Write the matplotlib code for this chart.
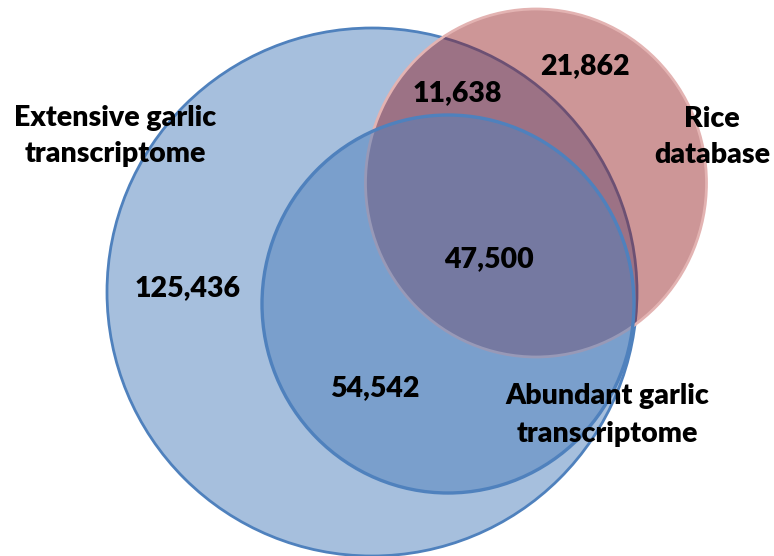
import matplotlib
matplotlib.use("Agg")
import matplotlib.pyplot as plt
from matplotlib.patches import Ellipse

# set names and region counts
set_names = ["Extensive garlic\ntranscriptome", "Rice\ndatabase", "Abundant garlic\ntranscriptome"]
region_names = ["extensive only", "extensive & rice", "rice only", "all three", "extensive & abundant"]
region_counts = [125436, 11638, 21862, 47500, 54542]

# layout (pixel space, y down)
ell_center = [(372, 292), (536, 183), (448, 304)]
ell_size = [(530, 528), (341, 348), (372, 378)]
face = [((79/255, 129/255, 189/255), 0.5),
        ((144/255, 22/255, 26/255), 0.45),
        ((79/255, 129/255, 189/255), 0.5)]
edge = ["#4f81bd", "#e3b3b2", "#4f81bd"]
edge_w = [2.0, 2.0, 2.4]
draw_order = [0, 1, 2]

set_label_pos = [(115, 136), (712, 137), (607, 415)]
set_label_spacing = [1.45, 1.5, 1.55]
count_pos = [(188, 288), (457, 93), (585, 66), (489, 259), (375, 388)]

plt.rcParams['font.family'] = ['Lato', 'DejaVu Sans']

fig = plt.figure(figsize=(7.74, 5.56), dpi=100)
ax = fig.add_axes([0, 0, 1, 1])
ax.set_xlim(0, 774)
ax.set_ylim(556, 0)
ax.set_aspect('equal')
ax.axis('off')

for i in draw_order:
    (cx, cy), (w, h) = ell_center[i], ell_size[i]
    col, a = face[i]
    ax.add_patch(Ellipse((cx, cy), w, h, facecolor=(*col, a), edgecolor=edge[i],
                         linewidth=edge_w[i]))

for name, (x, y), ls in zip(set_names, set_label_pos, set_label_spacing):
    ax.text(x, y, name, ha="center", va="center", fontsize=20.5, fontweight="heavy",
            linespacing=ls, color="black")

for n, (x, y) in zip(region_counts, count_pos):
    ax.text(x, y, f"{n:,}", ha="center", va="center", fontsize=20.5, fontweight="heavy",
            color="black")

fig.savefig("out.png", dpi=100)
